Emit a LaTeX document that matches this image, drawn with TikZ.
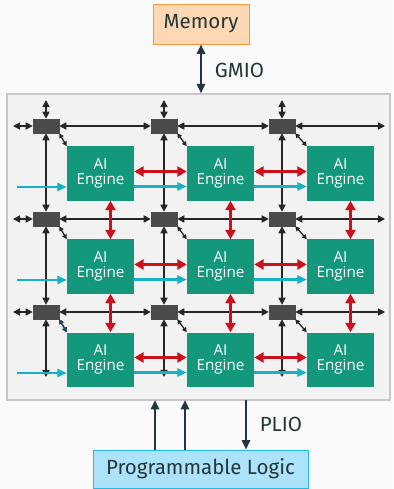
\documentclass[tikz,border=0pt]{standalone}
\usepackage{fontspec}
\setmainfont{Fira Sans}
\newfontfamily\engfont{Open Sans}
\usetikzlibrary{arrows.meta}
\definecolor{mdarkteal}{RGB}{35, 55, 59}
\definecolor{slidebg}{RGB}{250, 250, 250}
\definecolor{fabricfill}{RGB}{242, 242, 242}
\definecolor{fabricline}{RGB}{200, 200, 200}
\definecolor{memfill}{RGB}{254, 216, 178}
\definecolor{memline}{RGB}{245, 150, 60}
\definecolor{plfill}{RGB}{172, 226, 250}
\definecolor{plline}{RGB}{40, 182, 232}
\definecolor{aiegreen}{RGB}{20, 152, 124}
\definecolor{switchgray}{RGB}{75, 75, 75}
\definecolor{streamred}{RGB}{204, 16, 30}
\definecolor{cascadecyan}{RGB}{24, 178, 200}
\definecolor{dmanavy}{RGB}{30, 70, 110}

\begin{document}
\begin{tikzpicture}[x=0.03cm, y=-0.03cm, font=\fontsize{17.5}{20}\selectfont,
    every node/.style={text=mdarkteal},
    fabric/.style={draw=fabricline, fill=fabricfill, line width=1.2pt,
      minimum width=11.49cm, minimum height=9.18cm, inner sep=0},
    membox/.style={draw=memline, fill=memfill, line width=0.8pt,
      minimum width=2.88cm, minimum height=1.2cm},
    plbox/.style={draw=plline, fill=plfill, line width=0.8pt,
      minimum width=6.45cm, minimum height=1.14cm},
    engine/.style={fill=aiegreen, text=white, align=center, inner sep=0,
      minimum width=2.01cm, minimum height=1.62cm,
      font=\engfont\fontsize{13}{12.5}\selectfont},
    switchbox/.style={fill=switchgray, draw=black!70, inner sep=0,
      minimum width=0.78cm, minimum height=0.42cm},
    meshline/.style={black!85, line width=1.3pt,
      {Triangle[length=6pt,width=6pt]}-{Triangle[length=6pt,width=6pt]}},
    hop/.style={black!85, line width=1.1pt,
      {Triangle[length=4pt,width=4pt]}-{Triangle[length=4pt,width=4pt]}},
    neighbour/.style={streamred, line width=2.2pt,
      {Triangle[length=8pt,width=8.5pt]}-{Triangle[length=8pt,width=8.5pt]}},
    cascade/.style={cascadecyan, line width=1.8pt,
      -{Triangle[length=8pt,width=7pt]}},
    ioline/.style={mdarkteal, line width=1.9pt}]
  \fill[slidebg] (0,0) rectangle (393,489);
  \useasboundingbox (0,0) rectangle (393,489);

  \node[fabric] (fabric) at (198.5,247) {};
  \node[membox] (mem) at (201,24) {Memory};
  \node[plbox] (pl) at (200.5,469) {Programmable Logic};

  \foreach \r in {0,1,2} {
    \foreach \c in {0,1,2} {
      \node[switchbox] (sw-\r-\c) at (46+118*\c, 126+93*\r) {};
      \node[engine] (eng-\r-\c) at (100.5+120*\c, 173.5+93*\r) {AI\\Engine};
    }
  }

  % stream switch mesh
  \foreach \c in {0,1,2} {
    \coordinate (top-\c) at (46+118*\c, 100);
    \coordinate (bot-\c) at (46+118*\c, 377);
    \draw[meshline] (top-\c) -- (sw-0-\c.north);
    \draw[meshline] (sw-0-\c.south) -- (sw-1-\c.north);
    \draw[meshline] (sw-1-\c.south) -- (sw-2-\c.north);
    \draw[meshline] (sw-2-\c.south) -- (bot-\c);
  }
  \foreach \r in {0,1,2} {
    \coordinate (west-\r) at (13, 126+93*\r);
    \coordinate (east-\r) at (385, 126+93*\r);
    \coordinate (feed-\r) at (17, 187+93*\r);
    \draw[meshline] (west-\r) -- (sw-\r-0.west);
    \draw[meshline] (sw-\r-0.east) -- (sw-\r-1.west);
    \draw[meshline] (sw-\r-1.east) -- (sw-\r-2.west);
    \draw[meshline] (sw-\r-2.east) -- (east-\r);
    \draw[cascade] (feed-\r) -- (feed-\r -| eng-\r-0.west);
    \draw[cascade] ([yshift=-0.39cm]eng-\r-0.east) -- ([yshift=-0.39cm]eng-\r-1.west);
    \draw[cascade] ([yshift=-0.39cm]eng-\r-1.east) -- ([yshift=-0.39cm]eng-\r-2.west);
    \draw[neighbour] ([yshift=0.06cm]eng-\r-0.east) -- ([yshift=0.06cm]eng-\r-1.west);
    \draw[neighbour] ([yshift=0.06cm]eng-\r-1.east) -- ([yshift=0.06cm]eng-\r-2.west);
    \foreach \c in {0,1,2}
      \draw[hop] (sw-\r-\c.south east) -- (eng-\r-\c.north west);
  }
  \draw[hop, dmanavy] (sw-2-0.south east) -- (eng-2-0.north west);
  \foreach \c in {0,1,2} {
    \draw[neighbour] ([xshift=0.3cm]eng-0-\c.south) -- ([xshift=0.3cm]eng-1-\c.north);
    \draw[neighbour] ([xshift=0.3cm]eng-1-\c.south) -- ([xshift=0.3cm]eng-2-\c.north);
  }

  % GMIO / PLIO
  \draw[ioline, {Triangle[length=8pt,width=7pt]}-{Triangle[length=8pt,width=7pt]}]
    (mem.south) -- (mem.south |- fabric.north);
  \node (gmio) at (239.5,70) {GMIO};
  \coordinate (plin-a) at (155,400);
  \coordinate (plin-b) at (185,400);
  \coordinate (plout) at (246,400);
  \draw[ioline, -{Triangle[length=8pt,width=7pt]}] (plin-a |- pl.north) -- (plin-a);
  \draw[ioline, -{Triangle[length=8pt,width=7pt]}] (plin-b |- pl.north) -- (plin-b);
  \draw[ioline, -{Triangle[length=8pt,width=7pt]}] (plout) -- (plout |- pl.north);
  \node (plio) at (281,424) {PLIO};
\end{tikzpicture}
\end{document}
